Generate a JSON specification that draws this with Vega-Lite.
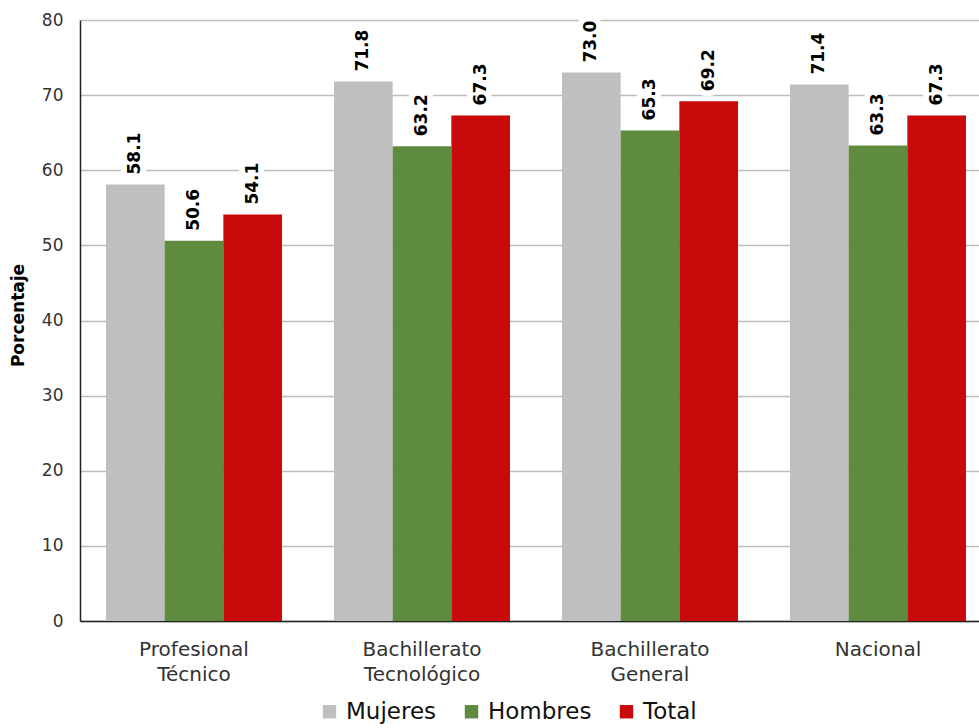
{
  "$schema": "https://vega.github.io/schema/vega-lite/v6.json",
  "width": 899,
  "height": 601,
  "autosize": "none",
  "padding": {"left": 80, "top": 20, "right": 0, "bottom": 107},
  "background": "white",
  "config": {
    "view": {"stroke": null},
    "font": "DejaVu Sans"
  },
  "data": {
    "values": [
      {"nivel": "Profesional Técnico", "grupo": "Mujeres", "valor": 58.1},
      {"nivel": "Profesional Técnico", "grupo": "Hombres", "valor": 50.6},
      {"nivel": "Profesional Técnico", "grupo": "Total", "valor": 54.1},
      {"nivel": "Bachillerato Tecnológico", "grupo": "Mujeres", "valor": 71.8},
      {"nivel": "Bachillerato Tecnológico", "grupo": "Hombres", "valor": 63.2},
      {"nivel": "Bachillerato Tecnológico", "grupo": "Total", "valor": 67.3},
      {"nivel": "Bachillerato General", "grupo": "Mujeres", "valor": 73.0},
      {"nivel": "Bachillerato General", "grupo": "Hombres", "valor": 65.3},
      {"nivel": "Bachillerato General", "grupo": "Total", "valor": 69.2},
      {"nivel": "Nacional", "grupo": "Mujeres", "valor": 71.4},
      {"nivel": "Nacional", "grupo": "Hombres", "valor": 63.3},
      {"nivel": "Nacional", "grupo": "Total", "valor": 67.3}
    ]
  },
  "encoding": {
    "x": {
      "field": "nivel",
      "type": "nominal",
      "sort": null,
      "scale": {"range": [0, 912], "paddingInner": 0.228, "paddingOuter": 0.114},
      "axis": {
        "title": null,
        "labelAngle": 0,
        "labelExpr": "split(datum.label, ' ')",
        "labelFont": "DejaVu Sans",
        "labelFontSize": 20,
        "labelColor": "#333333",
        "labelLineHeight": 25,
        "labelPadding": 18,
        "ticks": false,
        "domainColor": "#222222",
        "domainWidth": 1.5,
        "grid": false
      }
    },
    "xOffset": {"field": "grupo", "type": "nominal", "sort": ["Mujeres", "Hombres", "Total"], "scale": {"paddingInner": 0, "paddingOuter": 0}},
    "y": {
      "field": "valor",
      "type": "quantitative",
      "scale": {"domain": [0, 80], "nice": false},
      "axis": {
        "title": "Porcentaje",
        "titleFont": "DejaVu Sans",
        "titleFontSize": 17,
        "titleFontWeight": "bold",
        "titleColor": "#000000",
        "titleX": -62,
        "titleY": 295,
        "titleAngle": -90,
        "titleAlign": "center",
        "titleBaseline": "middle",
        "values": [0, 10, 20, 30, 40, 50, 60, 70, 80],
        "labelFont": "DejaVu Sans",
        "labelFontSize": 17,
        "labelColor": "#333333",
        "labelPadding": 17,
        "ticks": false,
        "domainColor": "#222222",
        "domainWidth": 1.5,
        "gridColor": "#bdbdbd",
        "gridWidth": 1.5
      }
    }
  },
  "layer": [
    {
      "mark": {"type": "bar"},
      "encoding": {
        "color": {
          "field": "grupo",
          "type": "nominal",
          "sort": ["Mujeres", "Hombres", "Total"],
          "scale": {"domain": ["Mujeres", "Hombres", "Total"], "range": ["#bfbfbf", "#5f8b3f", "#c90a0a"]},
          "legend": {
            "title": null,
            "orient": "none",
            "direction": "horizontal",
            "legendX": 238,
            "legendY": 680,
            "symbolType": "square",
            "symbolSize": 180,
            "symbolStrokeWidth": 0,
            "labelFont": "DejaVu Sans",
            "labelFontSize": 23,
            "labelColor": "#111111",
            "labelOffset": 5,
            "columnPadding": 23
          }
        }
      }
    },
    {
      "mark": {"type": "text", "angle": -90, "align": "left", "baseline": "middle", "dx": 10, "fontSize": 17, "fontWeight": "bold", "font": "DejaVu Sans", "stroke": "white", "strokeWidth": 12, "strokeJoin": "round"},
      "encoding": {"text": {"field": "valor", "type": "quantitative", "format": ".1f"}}
    },
    {
      "mark": {"type": "text", "angle": -90, "align": "left", "baseline": "middle", "dx": 10, "fontSize": 17, "fontWeight": "bold", "font": "DejaVu Sans", "fill": "#000000"},
      "encoding": {"text": {"field": "valor", "type": "quantitative", "format": ".1f"}}
    }
  ]
}
